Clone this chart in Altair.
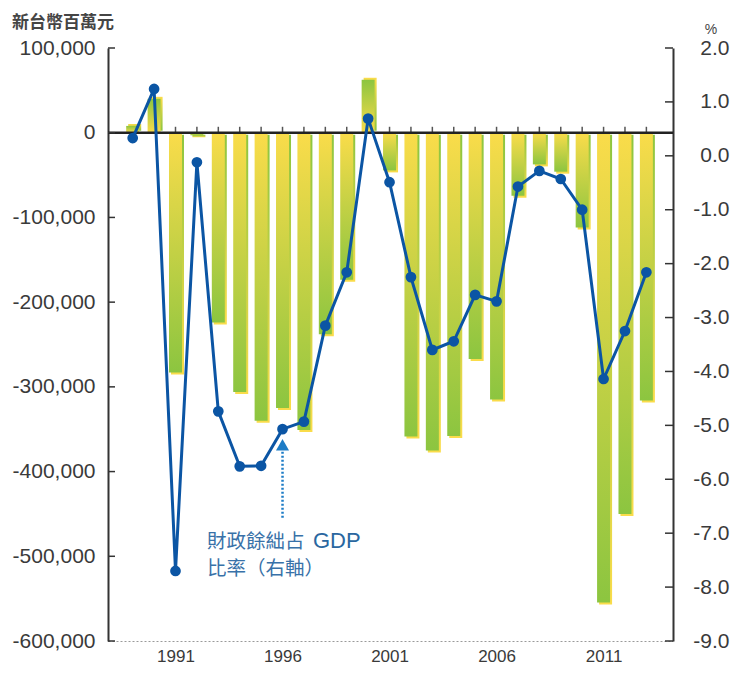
import altair as alt
import pandas as pd

# ---------------- data ----------------
YEARS = list(range(1989, 2014))
# 財政餘絀 (新台幣百萬元), left axis
BALANCE = [8000, 40000, -283000, -3000, -224000, -306000, -340000, -325000,
           -351000, -238000, -173500, 62500, -44500, -358500, -375000, -358000,
           -267000, -315000, -74400, -37400, -46000, -111800, -554500, -450000,
           -316000]
# 財政餘絀占 GDP 比率 (%), right axis
RATIO = [0.33, 1.24, -7.70, -0.12, -4.74, -5.76, -5.75, -5.07, -4.93, -3.15,
         -2.16, 0.69, -0.49, -2.25, -3.60, -3.44, -2.58, -2.70, -0.57, -0.28,
         -0.43, -1.00, -4.14, -3.25, -2.16]
X_LABEL_YEARS = [1991, 1996, 2001, 2006, 2011]
LEFT_TICKS = list(range(-600000, 100001, 100000))
RIGHT_TICKS = list(range(-9, 3))
UNIT_LEFT = "新台幣百萬元"
UNIT_RIGHT = "%"
NOTE_PARTS = ["財政餘絀占", "GDP", "比率（右軸）"]

df = pd.DataFrame({"year": YEARS, "balance": BALANCE, "ratio": RATIO})

# ---------------- styling ----------------
W, H = 565, 593
YELLOW = "#fadc4a"
GREEN = "#8cc540"
BLUE = "#0b55a4"
ARROW = "#1d7cc6"
NOTE = "#3871a8"
NOTE_DARK = "#2a67a0"
TXT = "#3a3a3a"
AXIS = "#333333"
NUM_FONT = "Liberation Sans"
CJK_FONT = "Liberation Sans, Noto Sans CJK TC"


def grad(c_top, c_bottom):
    return alt.LinearGradient(
        gradient="linear",
        stops=[alt.GradientStop(color=c_top, offset=0),
               alt.GradientStop(color=c_bottom, offset=1)],
        x1=0, x2=0, y1=0, y2=1)


MINUS_FIX = "replace(format(datum.value, '{f}'), '\u2212', '-')"

x_scale = alt.Scale(domain=[1988.08, 2014.01], nice=False, zero=False)
x_axis = alt.Axis(values=X_LABEL_YEARS, format="d", labelFontSize=17,
                  labelColor=TXT, labelFont=NUM_FONT, labelPadding=20,
                  labelBaseline="alphabetic",
                  ticks=False, tickSize=0, domain=True, domainColor="#9a9a9a",
                  domainDash=[2, 2], domainWidth=1, grid=False, title=None)

left_scale = alt.Scale(domain=[-600000, 100000], nice=False, zero=False)
left_axis = alt.Axis(orient="left", values=LEFT_TICKS,
                     labelExpr=MINUS_FIX.format(f=","), labelFontSize=21,
                     labelColor=TXT, labelFont=NUM_FONT, labelPadding=13,
                     ticks=False, tickSize=0, domain=True, domainColor=AXIS,
                     domainWidth=2, grid=False, title=None)

right_scale = alt.Scale(domain=[-9, 2], nice=False, zero=False)
right_axis = alt.Axis(orient="right", values=RIGHT_TICKS,
                      labelExpr=MINUS_FIX.format(f=".1f"), labelFontSize=21,
                      labelColor=TXT, labelFont=NUM_FONT, labelPadding=56,
                      labelAlign="right", ticks=False, tickSize=0, domain=True,
                      domainColor=AXIS, domainWidth=2, grid=False, title=None)


def X(field="year"):
    return alt.X(field, type="quantitative", scale=x_scale, axis=x_axis, title=None)


def LY(field):
    return alt.Y(field, type="quantitative", scale=left_scale, axis=left_axis, title=None)


def RY(field):
    return alt.Y(field, type="quantitative", scale=right_scale, axis=right_axis, title=None)


one = pd.DataFrame({"k": [0]})

# ---------------- left (amount) layers ----------------
zero_ticks = (alt.Chart(df).transform_calculate(z0="0", z1="7000")
              .mark_rule(color="#555555", strokeWidth=1.5)
              .encode(x=X(), y=LY("z0:Q"), y2=alt.Y2("z1:Q")))

neg = alt.Chart(df).transform_filter("datum.balance < 0")
pos = alt.Chart(df).transform_filter("datum.balance >= 0")

shadow_neg = neg.mark_bar(size=13, color=grad(GREEN, YELLOW), xOffset=2, yOffset=2).encode(
    x=X(), y=LY("balance"))
shadow_pos = pos.mark_bar(size=13, color=grad(YELLOW, GREEN), xOffset=2, yOffset=-2).encode(
    x=X(), y=LY("balance"))
bars_neg = neg.mark_bar(size=13, color=grad(YELLOW, GREEN)).encode(x=X(), y=LY("balance"))
bars_pos = pos.mark_bar(size=13, color=grad(GREEN, YELLOW)).encode(x=X(), y=LY("balance"))

zero_line = (alt.Chart(one).transform_calculate(z="0")
             .mark_rule(color="#222222", strokeWidth=2.5)
             .encode(y=LY("z:Q")))

left_ticks = (alt.Chart(pd.DataFrame({"t": LEFT_TICKS}))
              .mark_rule(color=AXIS, strokeWidth=1.5)
              .encode(y=LY("t"), x=alt.value(0), x2=alt.value(7)))

unit_left = (alt.Chart(one)
             .mark_text(text=UNIT_LEFT, font="Noto Sans CJK TC", fontSize=17,
                        fontWeight="bold", color="#454545", align="left",
                        baseline="middle")
             .encode(x=alt.value(-96), y=alt.value(-25)))

left = alt.layer(zero_ticks, shadow_neg, shadow_pos, bars_neg, bars_pos,
                 zero_line, left_ticks, unit_left)

# ---------------- right (ratio) layers ----------------
right_ticks = (alt.Chart(pd.DataFrame({"t": RIGHT_TICKS}))
               .mark_rule(color=AXIS, strokeWidth=1.5)
               .encode(y=RY("t"), x=alt.value(W - 8), x2=alt.value(W)))

line = alt.Chart(df).mark_line(color=BLUE, strokeWidth=3).encode(x=X(), y=RY("ratio"))
points = alt.Chart(df).mark_circle(size=115, color=BLUE, opacity=1).encode(
    x=X(), y=RY("ratio"))

# annotation arrow pointing at the 1996 point
arrow_df = pd.DataFrame({"year": [1996], "tip": [-5.36], "top": [-5.49], "tail": [-6.72]})
arrow_line = (alt.Chart(arrow_df)
              .mark_rule(color=ARROW, strokeWidth=2.5, strokeDash=[2, 2])
              .encode(x=X(), y=RY("top"), y2=alt.Y2("tail")))
arrow_head = (alt.Chart(arrow_df)
              .mark_point(shape="triangle-up", filled=True, size=170,
                          color=ARROW, opacity=1)
              .encode(x=X(), y=RY("tip")))

note1a = (alt.Chart(one)
          .mark_text(text=NOTE_PARTS[0], font=CJK_FONT, fontSize=19.5, color=NOTE,
                     align="left", baseline="alphabetic")
          .encode(x=alt.value(99), y=alt.value(500)))
note1b = (alt.Chart(one)
          .mark_text(text=NOTE_PARTS[1], font=NUM_FONT, fontSize=22, color=NOTE_DARK,
                     align="left", baseline="alphabetic")
          .encode(x=alt.value(205), y=alt.value(500)))
note2 = (alt.Chart(one)
         .mark_text(text=NOTE_PARTS[2], font=CJK_FONT, fontSize=19.5, color=NOTE,
                    align="left", baseline="alphabetic")
         .encode(x=alt.value(99), y=alt.value(527)))

unit_right = (alt.Chart(one)
              .mark_text(text=UNIT_RIGHT, font=NUM_FONT, fontSize=14,
                         color="#454545", align="center", baseline="middle")
              .encode(x=alt.value(603), y=alt.value(-18)))

right = alt.layer(right_ticks, line, points, arrow_line, arrow_head,
                  note1a, note1b, note2, unit_right)

chart = (alt.layer(left, right)
         .resolve_scale(y="independent")
         .properties(width=W, height=H,
                     padding={"left": 100, "top": 40, "right": 57, "bottom": 25},
                     autosize=alt.AutoSizeParams(type="none"))
         .configure_view(stroke=None))

chart.save("out.html", embed_options={"renderer": "svg", "actions": False})
